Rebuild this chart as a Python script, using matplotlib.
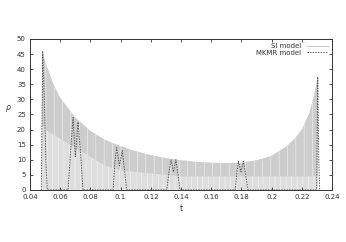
import numpy as np
import matplotlib
matplotlib.use("Agg")
import matplotlib.pyplot as plt

# SI model: envelope of the fast oscillation
t_si = [0.048, 0.05, 0.055, 0.06, 0.07, 0.08, 0.09, 0.1, 0.11, 0.12, 0.13,
        0.14, 0.15, 0.16, 0.17, 0.18, 0.19, 0.2, 0.21, 0.215, 0.22, 0.225,
        0.228, 0.2305]
si_top = [46, 42.5, 35.5, 30.5, 24, 19.5, 16.5, 14.5, 12.8, 11.5, 10.5,
          9.8, 9.3, 9.0, 8.9, 9.0, 9.8, 11.3, 14.5, 16.8, 20, 25.5, 31, 37.5]
si_dense = [22, 20, 18.5, 17, 14, 11, 8, 6.5, 6, 5.5, 5,
            4.5, 4.5, 4.5, 4.5, 4.5, 4.5, 4.5, 4.5, 4.5, 4.5, 4.5, 4.5, 4.5]

# MKMR model: narrow (double) peaks
t_mk = [0.0475, 0.0484, 0.0495, 0.0505, 0.0515, 0.0652, 0.0672, 0.0685, 0.0700,
        0.0718, 0.0735, 0.0751, 0.095, 0.0962, 0.0974, 0.0992, 0.1011, 0.1025,
        0.104, 0.1305, 0.1322, 0.1334, 0.135, 0.1366, 0.138, 0.1393, 0.1758,
        0.1772, 0.178, 0.1797, 0.1813, 0.1828, 0.1844, 0.2298, 0.2305, 0.2312,
        0.2318]
rho_mk = [0, 46, 30, 10, 0, 0, 15, 24, 11, 22.5, 12, 0, 0, 9, 14, 8, 13, 7,
          0, 0, 6.5, 10, 6, 10, 5, 0, 0, 6.5, 9.5, 6, 9.5, 5, 0, 0, 37.5, 10, 0]

xticks = [0.04, 0.06, 0.08, 0.1, 0.12, 0.14, 0.16, 0.18, 0.2, 0.22, 0.24]
xlabels = ['0.04', '0.06', '0.08', '0.1', '0.12', '0.14', '0.16', '0.18', '0.2', '0.22', '0.24']
yticks = [0, 5, 10, 15, 20, 25, 30, 35, 40, 45, 50]

plt.rcParams['hatch.linewidth'] = 0.4
plt.rcParams['hatch.color'] = '#f4f4f4'

fig = plt.figure(figsize=(3.46, 2.42), dpi=100)
ax = fig.add_axes([0.0867, 0.215, 0.873, 0.624])

# light lower part with vertical streaks, denser (darker) upper part
ax.fill_between(t_si, 0, si_top, facecolor='#dedede', lw=0, hatch='|||')
ax.fill_between(t_si, si_dense, si_top, facecolor='#cdcdcd', lw=0, hatch='||')
ax.plot([], [], color='#c8c8c8', lw=0.7, label='SI model')
ax.plot(t_mk, rho_mk, color='#5a5a5a', lw=0.7, dashes=(1.5, 1.2), label='MKMR model')

ax.set_xlim(0.04, 0.24)
ax.set_ylim(0, 50)
ax.set_xticks(xticks)
ax.set_xticklabels(xlabels)
ax.set_yticks(yticks)
ax.tick_params(direction='in', length=2.5, width=0.6, labelsize=5, colors='#333333',
               top=True, right=True, pad=3)
for s in ax.spines.values():
    s.set_linewidth(0.7)
    s.set_color('#333333')

ax.set_xlabel('t', fontsize=5.5, color='#333333', labelpad=3)
ax.set_ylabel(r'$\rho$', fontsize=5.5, color='#333333', rotation=0, labelpad=6)

leg = ax.legend(loc='upper right', fontsize=5, frameon=False, handlelength=3,
                borderaxespad=0.2, labelspacing=0.1, markerfirst=False,
                handletextpad=0.8)
for txt in leg.get_texts():
    txt.set_color('#333333')

fig.savefig('out.png', dpi=100)
